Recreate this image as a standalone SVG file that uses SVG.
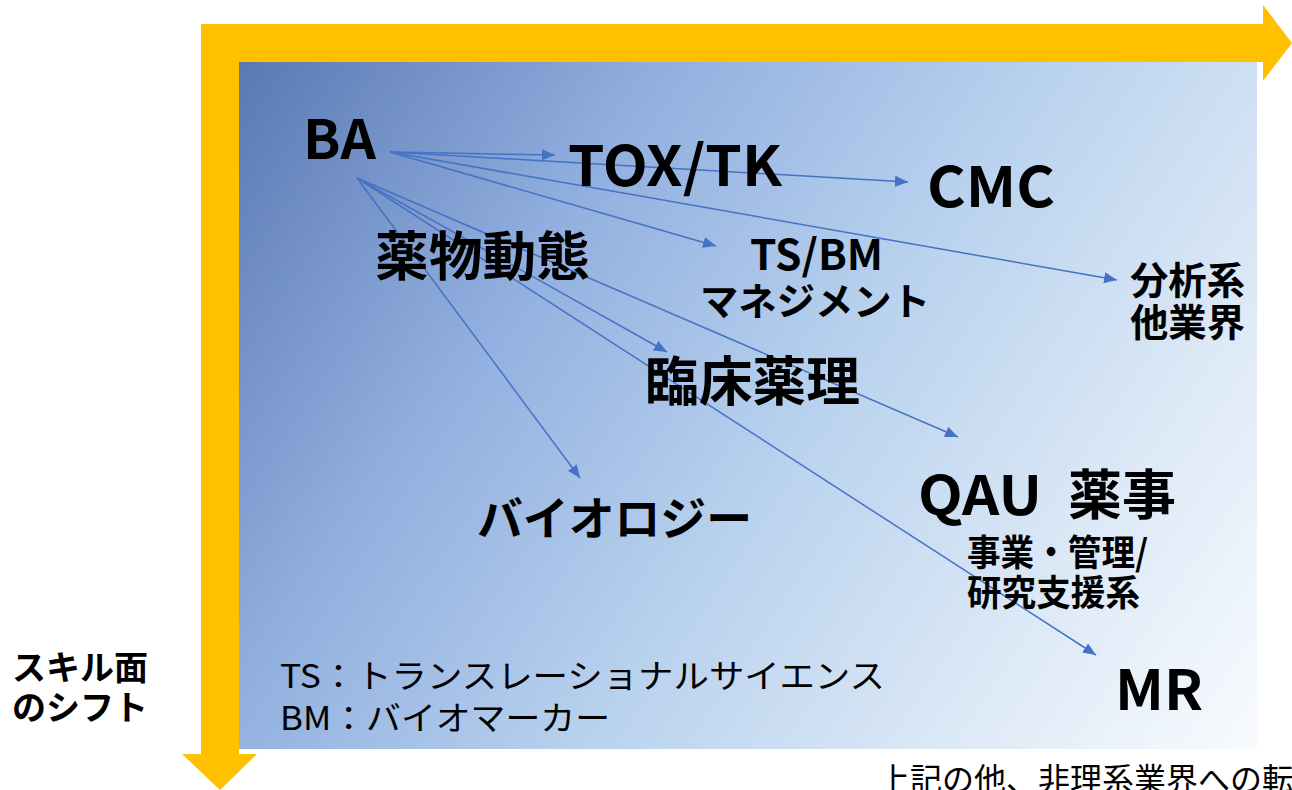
<svg xmlns="http://www.w3.org/2000/svg" width="1292" height="790" viewBox="0 0 1292 790">
<defs>
<linearGradient id="bg" gradientUnits="userSpaceOnUse" x1="239" y1="62" x2="1257" y2="749">
<stop offset="0" stop-color="#5a79b3"/>
<stop offset="0.3" stop-color="#93b1e0"/>
<stop offset="0.55" stop-color="#b9d2ee"/>
<stop offset="0.78" stop-color="#dbe8f6"/>
<stop offset="1" stop-color="#f8fbfe"/>
</linearGradient>
<marker id="ah" markerUnits="userSpaceOnUse" markerWidth="14" markerHeight="12" refX="13" refY="5.5" orient="auto">
<path d="M0,0 L13,5.5 L0,11 z" fill="#4472c4"/>
</marker>
<style>
.b{font-family:"Noto Sans CJK JP","Noto Sans",sans-serif;font-weight:bold;fill:#000}
.r{font-family:"Noto Sans CJK JP","Noto Sans",sans-serif;font-weight:normal;fill:#000}
.c{stroke:#4472c4;stroke-width:1.5;fill:none;marker-end:url(#ah)}
</style>
</defs>
<g id="background">
<rect x="239" y="62" width="1018" height="687" fill="url(#bg)"/>
<path d="M201,24 H1263 V5 L1292,43 L1263,81 V62 H239 V754 H257 L220,790 L182,754 H201 Z" fill="#ffc000"/>
</g>
<g id="connectors">
<line class="c" x1="390" y1="152" x2="555" y2="155"/>
<line class="c" x1="390" y1="152" x2="908" y2="182"/>
<line class="c" x1="390" y1="152" x2="716" y2="246"/>
<line class="c" x1="390" y1="152" x2="1117" y2="280"/>
<line class="c" x1="357" y1="178" x2="667" y2="352"/>
<line class="c" x1="357" y1="178" x2="958" y2="437"/>
<line class="c" x1="357" y1="178" x2="1096" y2="655"/>
<line class="c" x1="357" y1="178" x2="580" y2="478"/>
</g>
<g id="n-ba"><text class="b" x="303" y="159" font-size="54" textLength="73" lengthAdjust="spacingAndGlyphs">BA</text></g>
<g id="n-tox"><text class="b" x="568" y="186" font-size="56" textLength="214" lengthAdjust="spacingAndGlyphs">TOX/TK</text></g>
<g id="n-cmc"><text class="b" x="927" y="207" font-size="56" textLength="128" lengthAdjust="spacingAndGlyphs">CMC</text></g>
<g id="n-pk"><text class="b" x="375" y="276" font-size="53" textLength="215" lengthAdjust="spacingAndGlyphs">薬物動態</text></g>
<g id="n-tsbm">
<text class="b" x="750" y="270" font-size="42" textLength="133" lengthAdjust="spacingAndGlyphs">TS/BM</text>
<text class="b" x="700" y="315" font-size="38" textLength="230" lengthAdjust="spacingAndGlyphs">マネジメント</text>
</g>
<g id="n-bunseki">
<text class="b" x="1130" y="294" font-size="38" textLength="115" lengthAdjust="spacingAndGlyphs">分析系</text>
<text class="b" x="1130" y="336" font-size="38" textLength="115" lengthAdjust="spacingAndGlyphs">他業界</text>
</g>
<g id="n-rinsho"><text class="b" x="645" y="401" font-size="53" textLength="215" lengthAdjust="spacingAndGlyphs">臨床薬理</text></g>
<g id="n-qau">
<text class="b" y="515" font-size="54"><tspan x="918" textLength="124" lengthAdjust="spacingAndGlyphs">QAU</tspan><tspan x="1068" textLength="108" lengthAdjust="spacingAndGlyphs">薬事</tspan></text>
<text class="b" x="967" y="566" font-size="36" textLength="181" lengthAdjust="spacingAndGlyphs">事業・管理/</text>
<text class="b" x="967" y="606" font-size="36" textLength="173" lengthAdjust="spacingAndGlyphs">研究支援系</text>
</g>
<g id="n-bio"><text class="b" x="477" y="535" font-size="46" textLength="275" lengthAdjust="spacingAndGlyphs">バイオロジー</text></g>
<g id="n-mr"><text class="b" x="1115" y="710" font-size="56" textLength="88" lengthAdjust="spacingAndGlyphs">MR</text></g>
<g id="legend">
<text class="r" x="280" y="688" font-size="33" textLength="605" lengthAdjust="spacingAndGlyphs">TS：トランスレーショナルサイエンス</text>
<text class="r" x="280" y="730" font-size="33" textLength="330" lengthAdjust="spacingAndGlyphs">BM：バイオマーカー</text>
</g>
<g id="axis-label">
<text class="b" x="12" y="680" font-size="34" textLength="136" lengthAdjust="spacingAndGlyphs">スキル面</text>
<text class="b" x="12" y="720" font-size="34" textLength="136" lengthAdjust="spacingAndGlyphs">のシフト</text>
</g>
<g id="note"><text class="r" x="878" y="791" font-size="32">上記の他、非理系業界への転職</text></g>
</svg>
